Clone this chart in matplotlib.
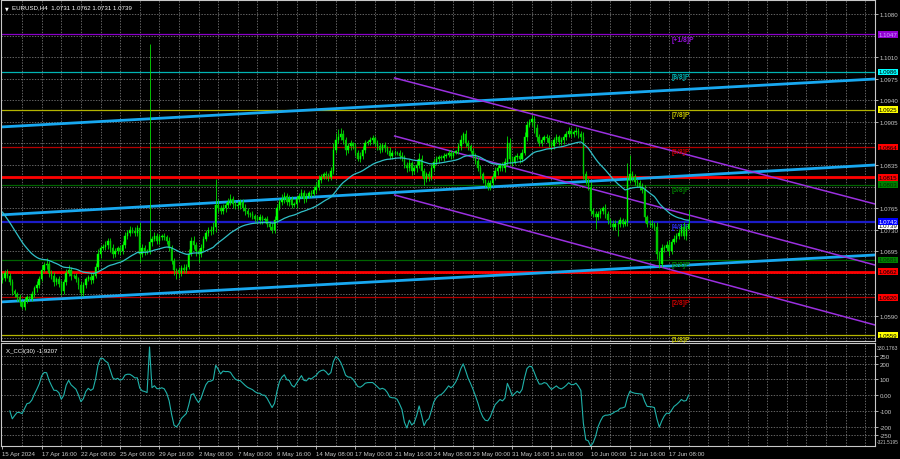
import numpy as np
import pandas as pd
import matplotlib
matplotlib.use("Agg")
import matplotlib.pyplot as plt
import matplotlib.transforms as mtransforms

plt.rcParams['font.family'] = ['Liberation Sans', 'DejaVu Sans']

# ---------------- data ----------------
title_text = "EURUSD,H4  1.0731 1.0762 1.0731 1.0739"
first_open = 1.0648

closes = [
    1.0652, 1.0660, 1.0655, 1.0645, 1.0630, 1.0625,   # 15 Apr
    1.0620, 1.0612, 1.0605, 1.0615, 1.0620, 1.0618,
    1.0625, 1.0635, 1.0640, 1.0650, 1.0665, 1.0672,
    1.0675, 1.0660, 1.0655, 1.0645, 1.0650, 1.0642,
    1.0630, 1.0645, 1.0660, 1.0665, 1.0655, 1.0655,
    1.0650, 1.0640, 1.0628, 1.0640, 1.0650, 1.0653,   # 22 Apr
    1.0648, 1.0655, 1.0670, 1.0690, 1.0700, 1.0702,
    1.0705, 1.0712, 1.0700, 1.0690, 1.0695, 1.0700,
    1.0695, 1.0705, 1.0720, 1.0725, 1.0730, 1.0728,
    1.0725, 1.0732, 1.0690, 1.0700, 1.0695, 1.0695,
    1.0710, 1.0715, 1.0720, 1.0712, 1.0718, 1.0720,   # 29 Apr
    1.0718, 1.0712, 1.0700, 1.0680, 1.0665, 1.0665,
    1.0660, 1.0668, 1.0665, 1.0670, 1.0690, 1.0712,
    1.0705, 1.0695, 1.0690, 1.0700, 1.0715, 1.0725,
    1.0730, 1.0728, 1.0735, 1.0770, 1.0765, 1.0760,
    1.0765, 1.0770, 1.0775, 1.0780, 1.0772, 1.0768,   # 6 May
    1.0770, 1.0775, 1.0765, 1.0760, 1.0755, 1.0755,
    1.0752, 1.0748, 1.0745, 1.0750, 1.0745, 1.0748,
    1.0740, 1.0735, 1.0730, 1.0745, 1.0765, 1.0775,
    1.0780, 1.0785, 1.0775, 1.0780, 1.0770, 1.0772,
    1.0780, 1.0785, 1.0790, 1.0780, 1.0785, 1.0790,   # 13 May
    1.0788, 1.0795, 1.0800, 1.0810, 1.0815, 1.0820,
    1.0818, 1.0815, 1.0825, 1.0860, 1.0875, 1.0880,
    1.0885, 1.0875, 1.0860, 1.0865, 1.0870, 1.0865,
    1.0855, 1.0845, 1.0850, 1.0860, 1.0870, 1.0872,
    1.0875, 1.0878, 1.0870, 1.0865, 1.0860, 1.0868,   # 20 May
    1.0862, 1.0858, 1.0850, 1.0855, 1.0855, 1.0855,
    1.0850, 1.0848, 1.0835, 1.0830, 1.0838, 1.0825,
    1.0830, 1.0835, 1.0845, 1.0825, 1.0812, 1.0820,
    1.0815, 1.0830, 1.0840, 1.0845, 1.0848, 1.0846,
    1.0850, 1.0852, 1.0855, 1.0850, 1.0855, 1.0858,   # 27 May
    1.0865, 1.0875, 1.0885, 1.0870, 1.0865, 1.0858,
    1.0850, 1.0842, 1.0830, 1.0820, 1.0810, 1.0805,
    1.0800, 1.0805, 1.0815, 1.0825, 1.0830, 1.0835,
    1.0830, 1.0840, 1.0870, 1.0845, 1.0840, 1.0848,
    1.0850, 1.0845, 1.0855, 1.0880, 1.0900, 1.0905,   # 3 Jun
    1.0910, 1.0895, 1.0880, 1.0870, 1.0875, 1.0880,
    1.0878, 1.0870, 1.0865, 1.0875, 1.0880, 1.0872,
    1.0875, 1.0880, 1.0885, 1.0890, 1.0885, 1.0888,
    1.0890, 1.0885, 1.0880, 1.0820, 1.0810, 1.0800,
    1.0760, 1.0755, 1.0750, 1.0755, 1.0760, 1.0765,   # 10 Jun
    1.0755, 1.0745, 1.0740, 1.0735, 1.0740, 1.0740,
    1.0745, 1.0740, 1.0742, 1.0810, 1.0820, 1.0815,
    1.0808, 1.0805, 1.0800, 1.0795, 1.0750, 1.0740,
    1.0740, 1.0738, 1.0735, 1.0690, 1.0675, 1.0700,
    1.0700, 1.0705, 1.0695, 1.0710, 1.0715, 1.0720,   # 17 Jun
    1.0725, 1.0735, 1.0720, 1.0731, 1.0739,
]

upper_wick_pips = [
    8, 5, 6, 4, 5, 3,  4, 6, 3, 5, 4, 3,  5, 4, 6, 5, 7, 6,  9, 5, 4, 6, 4, 5,  6, 5, 7, 8, 5, 3,
    5, 4, 6, 5, 4, 3,  6, 5, 6, 8, 5, 4,  6, 5, 4, 6, 5, 3,  5, 6, 7, 5, 6, 4,  6, 5, 10, 6, 5, 3,
    322, 5, 6, 4, 5, 3,  5, 4, 6, 5, 4, 3,  5, 4, 6, 5, 8, 6,  7, 5, 4, 6, 5, 4,  5, 6, 8, 42, 10, 5,
    6, 5, 7, 8, 5, 4,  6, 5, 4, 6, 5, 3,  5, 4, 6, 5, 4, 3,  5, 4, 6, 8, 7, 5,  8, 6, 5, 6, 4, 3,
    5, 4, 6, 5, 4, 3,  5, 6, 7, 8, 6, 4,  5, 4, 6, 10, 12, 13,  10, 6, 5, 6, 5, 3,  5, 4, 6, 5, 6, 4,
    6, 5, 4, 6, 5, 3,  5, 4, 6, 5, 4, 3,  5, 6, 4, 5, 6, 3,  5, 8, 10, 6, 5, 4,  5, 6, 7, 5, 4, 3,
    4, 3, 5, 4, 3, 2,  6, 8, 3, 6, 5, 4,  5, 4, 6, 5, 4, 3,  5, 6, 5, 7, 5, 4,  5, 6, 12, 8, 5, 4,
    5, 4, 6, 8, 7, 5,  6, 5, 6, 5, 6, 4,  6, 5, 4, 6, 5, 4,  5, 6, 5, 6, 5, 4,  6, 5, 5, 8, 6, 4,
    8, 6, 5, 6, 5, 4,  6, 5, 4, 6, 5, 4,  5, 4, 6, 28, 32, 6,  6, 5, 6, 5, 8, 4,  6, 5, 4, 8, 5, 6,
    5, 6, 8, 5, 6, 4,  6, 5, 8, 6, 23,
]

lower_wick_pips = [
    5, 6, 4, 5, 6, 5,  5, 6, 4, 5, 4, 3,  4, 5, 6, 5, 4, 3,  5, 6, 5, 6, 4, 5,  6, 5, 4, 5, 6, 3,
    5, 6, 6, 5, 4, 3,  6, 5, 4, 5, 6, 3,  5, 6, 7, 6, 5, 4,  6, 5, 4, 5, 6, 4,  5, 6, 12, 5, 6, 4,
    5, 6, 4, 5, 6, 4,  5, 6, 5, 6, 8, 15,  8, 5, 6, 5, 4, 3,  6, 8, 12, 5, 4, 3,  5, 6, 5, 8, 6, 5,
    5, 6, 4, 5, 6, 4,  5, 6, 5, 6, 5, 4,  5, 6, 4, 5, 6, 3,  6, 5, 6, 5, 4, 3,  5, 6, 5, 6, 5, 3,
    6, 5, 4, 6, 5, 3,  5, 4, 6, 5, 4, 3,  5, 6, 4, 5, 6, 4,  5, 6, 8, 5, 6, 4,  6, 4, 5, 6, 5, 3,
    5, 6, 5, 6, 5, 4,  6, 5, 6, 5, 4, 3,  5, 6, 5, 6, 4, 6,  5, 6, 5, 8, 9, 4,  6, 5, 4, 5, 6, 3,
    4, 3, 4, 5, 3, 2,  5, 6, 5, 6, 5, 4,  5, 6, 5, 6, 5, 6,  6, 5, 4, 5, 6, 4,  5, 6, 5, 8, 6, 4,
    5, 6, 5, 4, 6, 4,  6, 8, 6, 5, 4, 3,  5, 6, 5, 4, 5, 4,  5, 6, 5, 4, 5, 4,  5, 6, 5, 8, 6, 5,
    6, 5, 19, 5, 6, 4,  6, 5, 6, 5, 6, 20,  5, 6, 4, 6, 5, 6,  6, 5, 6, 5, 8, 6,  5, 6, 5, 8, 7, 6,
    6, 5, 8, 5, 4, 5,  5, 6, 5, 6, 0,
]

ma_seed = 1.0765          # moving average value at the left edge
ma_span = 34
cci_period = 30

murray_levels = [1.1047, 1.0986, 1.0925, 1.0864, 1.0803, 1.0743, 1.0681, 1.0620, 1.0559]
murray_names = ["[+1/8]P", "[8/8]P", "[7/8]P", "[6/8]P", "[5/8]P", "[4/8]P", "[3/8]P", "[2/8]P", "[1/8]P"]
murray_colors = ["#8a00c8", "#00b4b4", "#b4b400", "#b40000", "#006400", "#1c1cc8", "#006400", "#b40000", "#b4b400"]
murray_text_colors = ["#9a10e0", "#00b8b8", "#c8c800", "#c80000", "#008000", "#3030ff", "#008000", "#c80000", "#c8c800"]
murray_box_colors = ["#9400d3", "#00ffff", "#ffff00", "#ff0000", "#008000", "#0000ff", "#008000", "#ff0000", "#ffff00"]
murray_box_text = ["#c8a0ff", "#000000", "#000000", "#000000", "#003000", "#ffffff", "#003000", "#000000", "#000000"]

sr_levels = [1.0815, 1.0662]
current_price = 1.0739

# trend lines: (bar, price) anchor pairs
cyan_lines = [((-1.0, 1.08966), (356.0, 1.09745)),
              ((-1.0, 1.07539), (356.0, 1.08350)),
              ((-1.0, 1.06127), (356.0, 1.06890))]
purple_lines = [((160.0, 1.09762), (356.0, 1.07717)),
                ((160.0, 1.08820), (356.0, 1.06727)),
                ((160.0, 1.07863), (356.0, 1.05754))]

price_grid = [1.0555, 1.0590, 1.0625, 1.0660, 1.0695, 1.0730, 1.0765, 1.0800, 1.0835,
              1.0870, 1.0905, 1.0940, 1.0975, 1.1010, 1.1045, 1.1080]
price_tick_labels = [1.0590, 1.0695, 1.0730, 1.0765, 1.0835, 1.0905, 1.0940, 1.0975, 1.1010, 1.1080]
price_range = (1.05494, 1.11027)
bar_range = (-0.6, 356.0)

cci_ticks = [250, 200, 100, 0, -100, -200, -250]
cci_tick_labels = ["250", "200", "100", "0.00", "-100", "-200", "-250"]
cci_range = (-321.5195, 330.1763)
cci_title = "X_CCI(30) -1.9207"

x_tick_bars = [0, 16, 32, 48, 64, 80, 96, 112, 128, 144, 160, 176, 192, 208, 224, 240, 256, 272]
x_tick_labels = ["15 Apr 2024", "17 Apr 16:00", "22 Apr 08:00", "25 Apr 00:00", "29 Apr 16:00",
                 "2 May 08:00", "7 May 00:00", "9 May 16:00", "14 May 08:00", "17 May 00:00",
                 "21 May 16:00", "24 May 08:00", "29 May 00:00", "31 May 16:00", "5 Jun 08:00",
                 "10 Jun 00:00", "12 Jun 16:00", "17 Jun 08:00"]
grid_bars = [8, 16, 24, 32, 40, 48, 56, 64, 72, 80, 88, 96, 104, 112, 120, 128, 136, 144, 152, 160,
             168, 176, 184, 192, 200, 208, 216, 224, 232, 240, 248, 256, 264, 272, 280, 288, 296,
             304, 312, 320, 328, 336, 344, 352]

# ---------------- derived ----------------
closes = np.array(closes)
opens = np.concatenate([[first_open], closes[:-1]])
highs = np.maximum(opens, closes) + np.array(upper_wick_pips) / 10000.0
lows = np.minimum(opens, closes) - np.array(lower_wick_pips) / 10000.0
idx = np.arange(len(closes))

ma = pd.Series(np.concatenate([[ma_seed], closes])).ewm(span=ma_span, adjust=False).mean().values[1:]

tp = pd.Series((highs + lows + closes) / 3.0)
sma_tp = tp.rolling(cci_period, min_periods=4).mean()
md = tp.rolling(cci_period, min_periods=4).apply(lambda w: np.mean(np.abs(w - w.mean())), raw=True)
cci = ((tp - sma_tp) / (0.015 * md)).values

# ---------------- figure ----------------
BG = "#000000"
GRID = "#8a8a8a"
AXC = "#c8c8c8"
FS = 4.4

fig = plt.figure(figsize=(9, 4.6), dpi=100, facecolor=BG)
W, H = 900.0, 460.0
ax = fig.add_axes([1 / W, 1 - 342 / H, 874 / W, 341 / H], facecolor=BG)
ax2 = fig.add_axes([1 / W, 1 - 447 / H, 874 / W, 103 / H], facecolor=BG)

for a in (ax, ax2):
    for s in a.spines.values():
        s.set_color(AXC)
        s.set_linewidth(0.8)
    a.set_xlim(*bar_range)
    for gb in grid_bars:
        a.axvline(gb, color=GRID, lw=0.5, ls=(0, (2, 2)), zorder=0.5)

# main panel
ax.set_ylim(*price_range)
for p in price_grid:
    ax.axhline(p, color=GRID, lw=0.5, ls=(0, (2, 2)), zorder=0.5)

# murray levels
for lvl, col in zip(murray_levels, murray_colors):
    lw = 1.6 if lvl == 1.0743 else 0.9
    ax.axhline(lvl, color=col, lw=lw, zorder=1)
for lvl, name, col in zip(murray_levels, murray_names, murray_text_colors):
    ax.text(273.2, lvl - 0.0002, name, color=col, fontsize=FS + 0.5, ha="left", va="top", zorder=3,
            fontweight="bold")

# thick red support/resistance
for lvl in sr_levels:
    ax.axhline(lvl, color="#ff0000", lw=2.0, zorder=2)

# cyan trend lines
for (p1, p2) in cyan_lines:
    ax.axline(p1, p2, color="#18a8f0", lw=2.0, zorder=2)
# purple channel rays
for (p1, p2) in purple_lines:
    ax.plot([p1[0], p2[0]], [p1[1], p2[1]], color="#9b30e0", lw=1.1, zorder=2)

# candles
bull = closes >= opens
ax.vlines(idx, lows, highs, color="#00e000", lw=0.6, zorder=3)
ax.bar(idx[bull], (closes - opens)[bull], bottom=opens[bull], width=0.6, color="#00ff00",
       edgecolor="#00ff00", lw=0.3, zorder=4)
ax.bar(idx[~bull], (closes - opens)[~bull], bottom=opens[~bull], width=0.6, color="#00c800",
       edgecolor="#00c800", lw=0.3, zorder=4)

# moving average
ax.plot(idx, ma, color="#30c0c8", lw=0.9, zorder=5)

# right axis
ax.yaxis.tick_right()
ax.set_yticks(price_tick_labels)
ax.set_yticklabels([f"{p:.4f}" for p in price_tick_labels])
ax.tick_params(axis="y", colors=AXC, labelsize=FS, length=2, pad=1.5, width=0.6)
ax.tick_params(axis="x", bottom=False, labelbottom=False)

trans = mtransforms.blended_transform_factory(ax.transAxes, ax.transData)
box_kw = dict(boxstyle="square,pad=0.12", ec="none")
ax.text(1.004, current_price - 0.0002, f"{current_price:.4f}", transform=trans, fontsize=FS,
        color="#000000", ha="left", va="center", clip_on=False, zorder=9,
        bbox=dict(fc="#ffffff", **box_kw))
for lvl, bc, tc in zip(murray_levels, murray_box_colors, murray_box_text):
    ax.text(1.004, lvl, f"{lvl:.4f}", transform=trans, fontsize=FS, color=tc, ha="left",
            va="center", clip_on=False, zorder=10, bbox=dict(fc=bc, **box_kw))
for lvl in sr_levels:
    ax.text(1.004, lvl, f"{lvl:.4f}", transform=trans, fontsize=FS, color="#000000", ha="left",
            va="center", clip_on=False, zorder=10, bbox=dict(fc="#ff0000", **box_kw))

# title
ax.text(0.004, 0.985, "\u25BC", transform=ax.transAxes, color="#ffffff", fontsize=3.5,
        ha="left", va="top", family="DejaVu Sans")
ax.text(0.013, 0.987, title_text, transform=ax.transAxes, color="#ffffff", fontsize=FS,
        ha="left", va="top")

# CCI panel
ax2.set_ylim(cci_range[0], cci_range[1])
for v in cci_ticks:
    ax2.axhline(v, color=GRID, lw=0.5, ls=(0, (2, 2)), zorder=0.5)
ax2.plot(idx, cci, color="#20b2aa", lw=0.8, zorder=3)
ax2.yaxis.tick_right()
ax2.set_yticks(cci_ticks)
ax2.set_yticklabels(cci_tick_labels)
ax2.tick_params(axis="y", colors=AXC, labelsize=FS, length=2, pad=1.5, width=0.6)
ax2.text(1.002, 0.985, f"{cci_range[1]:.4f}", transform=ax2.transAxes, color=AXC, fontsize=3.7,
         ha="left", va="top", clip_on=False)
ax2.text(1.002, 0.015, f"{cci_range[0]:.4f}", transform=ax2.transAxes, color=AXC, fontsize=3.4,
         ha="left", va="bottom", clip_on=False)
ax2.text(0.006, 0.95, cci_title, transform=ax2.transAxes, color="#ffffff", fontsize=FS,
         ha="left", va="top")

ax2.set_xticks(x_tick_bars)
ax2.set_xticklabels(x_tick_labels)
ax2.tick_params(axis="x", colors=AXC, labelsize=FS, length=2, pad=1.5, width=0.6)
for lbl in ax2.get_xticklabels():
    lbl.set_horizontalalignment("left")

fig.savefig("out.png", dpi=100, facecolor=BG)
